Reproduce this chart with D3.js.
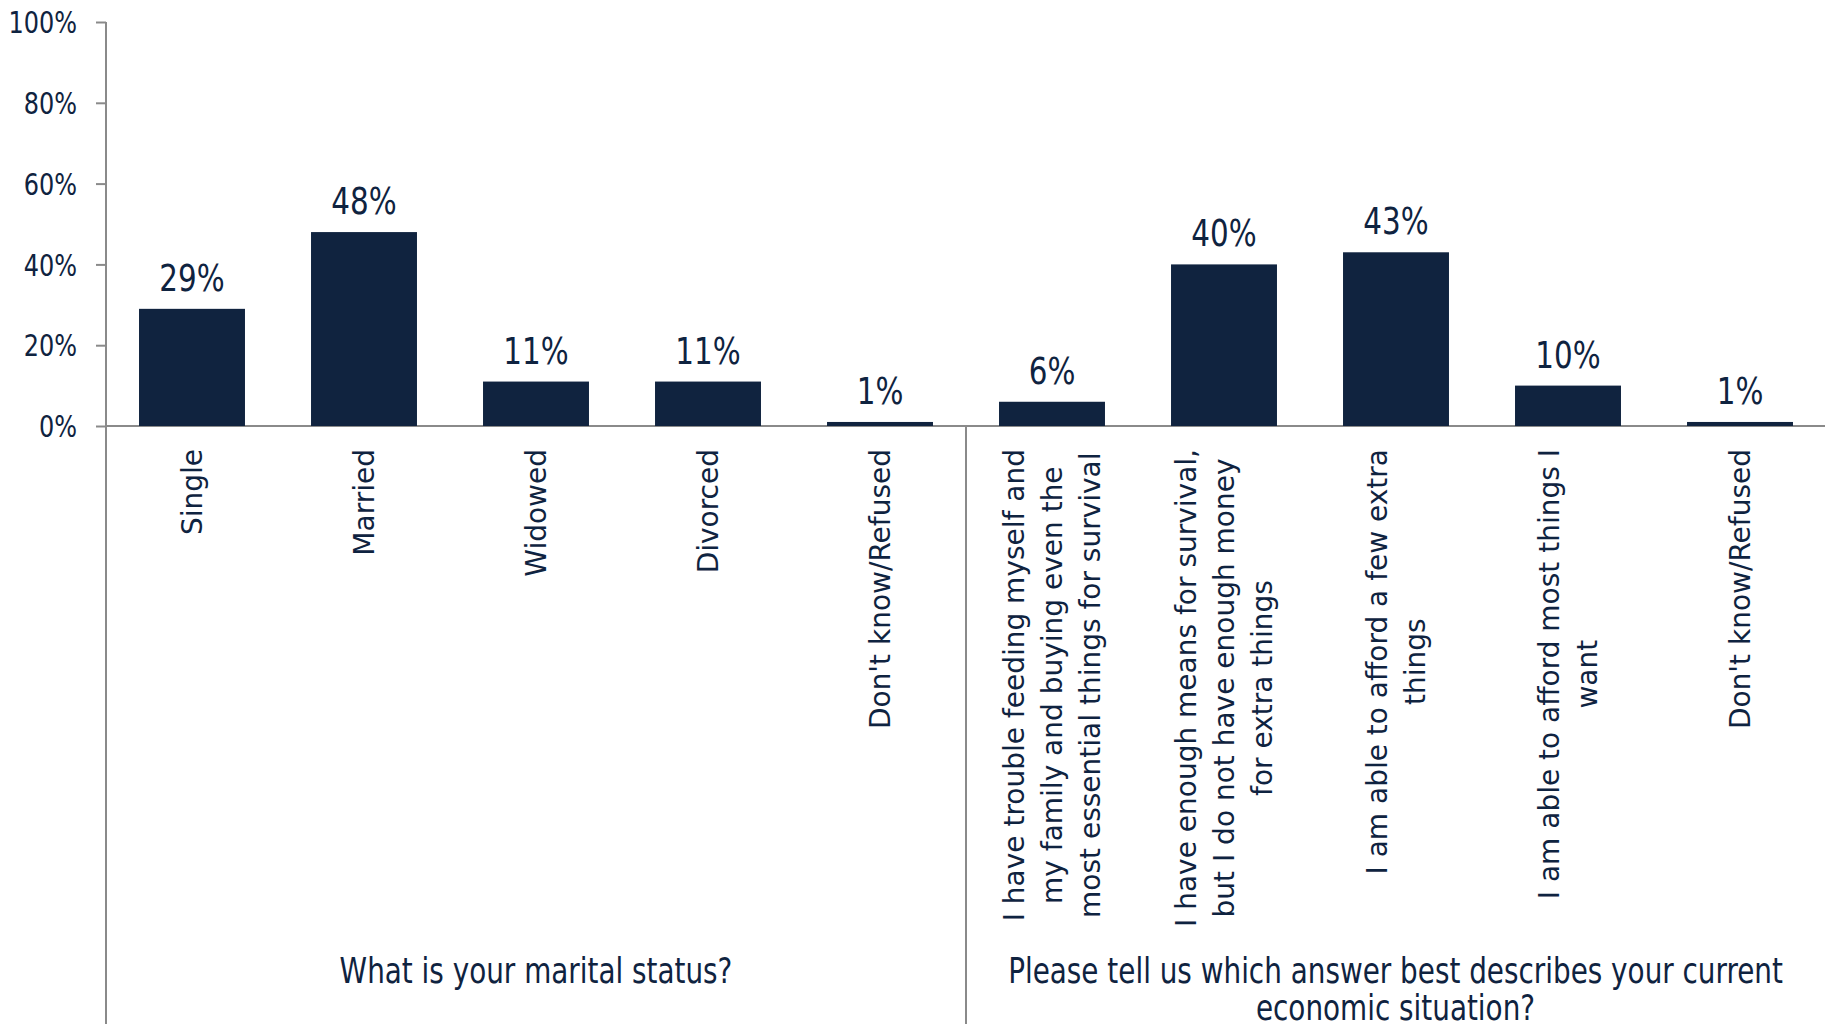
<!DOCTYPE html>
<html>
<head>
<meta charset="utf-8">
<script src="https://cdn.jsdelivr.net/npm/d3@7"></script>
<style>
  body { margin: 0; background: #fff; }
  svg { display: block; }
  .narrow { font-family: "DejaVu Sans Condensed", "DejaVu Sans", sans-serif; fill: #0f2340; }
  .cat { font-family: "DejaVu Sans", Verdana, sans-serif; fill: #0f2340; }
  .axis path, .axis line { stroke: #8a8a8a; stroke-width: 2px; }
</style>
</head>
<body>
<svg width="1825" height="1024"></svg>
<script>
var groupTitles = [
    "What is your marital status?",
    "Please tell us which answer best describes your current\neconomic situation?"
];
var maritalLabels = ["Single", "Married", "Widowed", "Divorced", "Don't know/Refused"];
var maritalValues = [0.29, 0.48, 0.11, 0.11, 0.01];
var economyLabels = [
    "I have trouble feeding myself and\nmy family and buying even the\nmost essential things for survival",
    "I have enough means for survival,\nbut I do not have enough money\nfor extra things",
    "I am able to afford a few extra\nthings",
    "I am able to afford most things I\nwant",
    "Don't know/Refused"
];
var economyValues = [0.06, 0.40, 0.43, 0.10, 0.01];
var yTicks = [0, 0.2, 0.4, 0.6, 0.8, 1];

var svg = d3.select("svg"),
    width = +svg.attr("width"),
    height = +svg.attr("height"),
    marginLeft = 106, plotTop = 22, base = 426,
    squeeze = 0.86,
    barColor = "#10233f",
    pct = d3.format(".0%");

var data = [];
maritalLabels.forEach(function (l, i) { data.push({ group: 0, label: l, value: maritalValues[i] }); });
economyLabels.forEach(function (l, i) { data.push({ group: 1, label: l, value: economyValues[i] }); });

var x = d3.scaleBand()
    .domain(d3.range(data.length))
    .range([marginLeft, width + 1])
    .paddingInner(0.384)
    .paddingOuter(0.192);
var y = d3.scaleLinear().domain([0, 1]).range([base, plotTop]);

// condensed text: drawn in a group squeezed horizontally
function narrowText(parent, px, py, size, anchor) {
    return parent.append("g")
        .attr("transform", "translate(" + px + "," + py + ") scale(" + squeeze + ",1)")
        .append("text")
        .attr("class", "narrow")
        .attr("text-anchor", anchor)
        .style("font-size", size + "px");
}

// y axis
var yAxis = svg.append("g")
    .attr("class", "axis")
    .attr("transform", "translate(" + marginLeft + ",0)")
    .call(d3.axisLeft(y).tickValues(yTicks).tickSize(10).tickFormat("").tickSizeOuter(0));
yAxis.select(".domain").remove();
yAxis.append("line").attr("x1", 0).attr("x2", 0).attr("y1", y(1)).attr("y2", height);
yTicks.forEach(function (t) {
    narrowText(yAxis, -29, y(t), 31, "end").attr("dy", "0.36em").text(pct(t));
});

// baseline + group divider
svg.append("g").attr("class", "axis").append("line")
    .attr("x1", marginLeft).attr("x2", width).attr("y1", base).attr("y2", base);
var split = (x(maritalLabels.length - 1) + x.bandwidth() + x(maritalLabels.length)) / 2;
svg.append("g").attr("class", "axis").append("line")
    .attr("x1", split).attr("x2", split).attr("y1", base).attr("y2", height);

// bars
svg.selectAll("rect.bar")
    .data(data)
    .enter().append("rect")
    .attr("class", "bar")
    .attr("x", function (d, i) { return x(i); })
    .attr("width", x.bandwidth())
    .attr("y", function (d) { return y(d.value); })
    .attr("height", function (d) { return base - y(d.value); })
    .attr("fill", barColor);

// value labels
data.forEach(function (d, i) {
    narrowText(svg, x(i) + x.bandwidth() / 2, y(d.value) - 18, 38, "middle").text(pct(d.value));
});

// category labels, rotated, lines centered in block
var lineH = 38;
data.forEach(function (d, i) {
    var g = svg.append("g")
        .attr("transform", "translate(" + (x(i) + x.bandwidth() / 2) + "," + 449 + ") rotate(-90)");
    var lines = d.label.split("\n");
    var t = g.append("text").attr("class", "cat").style("font-size", "28px").attr("text-anchor", "middle");
    var spans = t.selectAll("tspan").data(lines).enter().append("tspan")
        .attr("y", function (l, j) { return (j - (lines.length - 1) / 2) * lineH; })
        .attr("dy", "0.36em")
        .text(function (l) { return l; });
    var maxW = 0;
    spans.each(function () { maxW = Math.max(maxW, this.getComputedTextLength()); });
    spans.attr("x", -maxW / 2);
});

// group titles
var groupRanges = [[marginLeft, split], [split, width]];
groupTitles.forEach(function (title, k) {
    var cx = (groupRanges[k][0] + groupRanges[k][1]) / 2;
    var t = narrowText(svg, cx, 983, 36, "middle");
    title.split("\n").forEach(function (l, j) {
        t.append("tspan").attr("x", 0).attr("y", j * 37).text(l);
    });
});
</script>
</body>
</html>
